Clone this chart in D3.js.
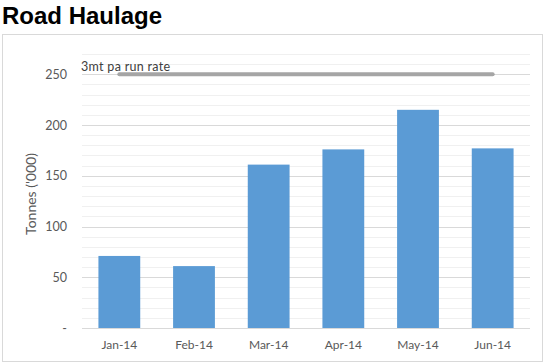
<!DOCTYPE html>
<html><head><meta charset="utf-8">
<script src="https://cdn.jsdelivr.net/npm/d3@7"></script>
<style>body{margin:0;background:#fff}svg{display:block}</style>
</head><body>
<svg id="c" width="545" height="364"></svg>
<script>
const categories = ["Jan-14","Feb-14","Mar-14","Apr-14","May-14","Jun-14"];
const tonnes = [71, 61, 161, 176, 215, 177];
const runRate = 250;
const runRateLabel = "3mt pa run rate";
const yTicks = [0, 50, 100, 150, 200, 250];
const yTickLabels = ["-", "50", "100", "150", "200", "250"];

const svg = d3.select("#c");
const font = "Lato, 'Open Sans', sans-serif";

svg.append("text").attr("x", 2).attr("y", 24)
  .attr("font-family", "Arial, 'Liberation Sans', sans-serif")
  .attr("font-weight", "bold").attr("font-size", 24).attr("fill", "#000")
  .text("Road Haulage");

svg.append("rect").attr("x", 2.5).attr("y", 34.5).attr("width", 540).attr("height", 327)
  .attr("fill", "#fff").attr("stroke", "#d9d9d9");

const x = d3.scaleBand().domain(categories).range([82, 530]).paddingInner(0.44).paddingOuter(0.22);
const y = d3.scaleLinear().domain([0, 270]).range([328, 54]);

const g = svg.append("g");
g.selectAll("line.minor").data(d3.range(10, 271, 10).filter(v => v % 50 !== 0))
  .join("line").attr("x1", 82).attr("x2", 530)
  .attr("y1", d => Math.round(y(d)) + 0.5).attr("y2", d => Math.round(y(d)) + 0.5)
  .attr("stroke", "#f0f0f0");
g.selectAll("line.major").data(yTicks)
  .join("line").attr("x1", 82).attr("x2", 530)
  .attr("y1", d => Math.round(y(d)) + 0.5).attr("y2", d => Math.round(y(d)) + 0.5)
  .attr("stroke", "#d9d9d9");

const yAxis = d3.axisLeft(y).tickValues(yTicks).tickSize(0).tickPadding(0)
  .tickFormat((d, i) => yTickLabels[i]);
const ya = svg.append("g").attr("transform", "translate(67,0)").call(yAxis);
ya.select(".domain").remove();
ya.selectAll("text").attr("font-family", font).attr("font-size", 12.5).attr("fill", "#595959");

svg.selectAll("rect.bar").data(categories).join("rect").attr("class", "bar")
  .attr("x", d => x(d)).attr("width", x.bandwidth())
  .attr("y", (d, i) => y(tonnes[i])).attr("height", (d, i) => y(0) - y(tonnes[i]))
  .attr("fill", "#5b9bd5");

const xAxis = d3.axisBottom(x).tickSize(0).tickPadding(0);
const xa = svg.append("g").attr("transform", "translate(0,340)").call(xAxis);
xa.select(".domain").remove();
xa.selectAll("text").attr("font-family", font).attr("font-size", 12).attr("fill", "#595959");

const rr = categories.map(c => [x(c) + x.bandwidth() / 2, y(runRate)]);
svg.append("path").attr("d", d3.line()([rr[0], rr[rr.length - 1]]))
  .attr("stroke", "#a5a5a5").attr("stroke-width", 4).attr("stroke-linecap", "round").attr("fill", "none");
svg.append("text").attr("x", 81).attr("y", 71)
  .attr("font-family", font).attr("font-size", 12.5).attr("letter-spacing", 0.3).attr("fill", "#404040")
  .text(runRateLabel);

svg.append("text").attr("transform", "translate(36,194) rotate(-90)")
  .attr("text-anchor", "middle").attr("font-family", font).attr("font-size", 14).attr("fill", "#595959")
  .text("Tonnes ('000)");
</script>
</body></html>
